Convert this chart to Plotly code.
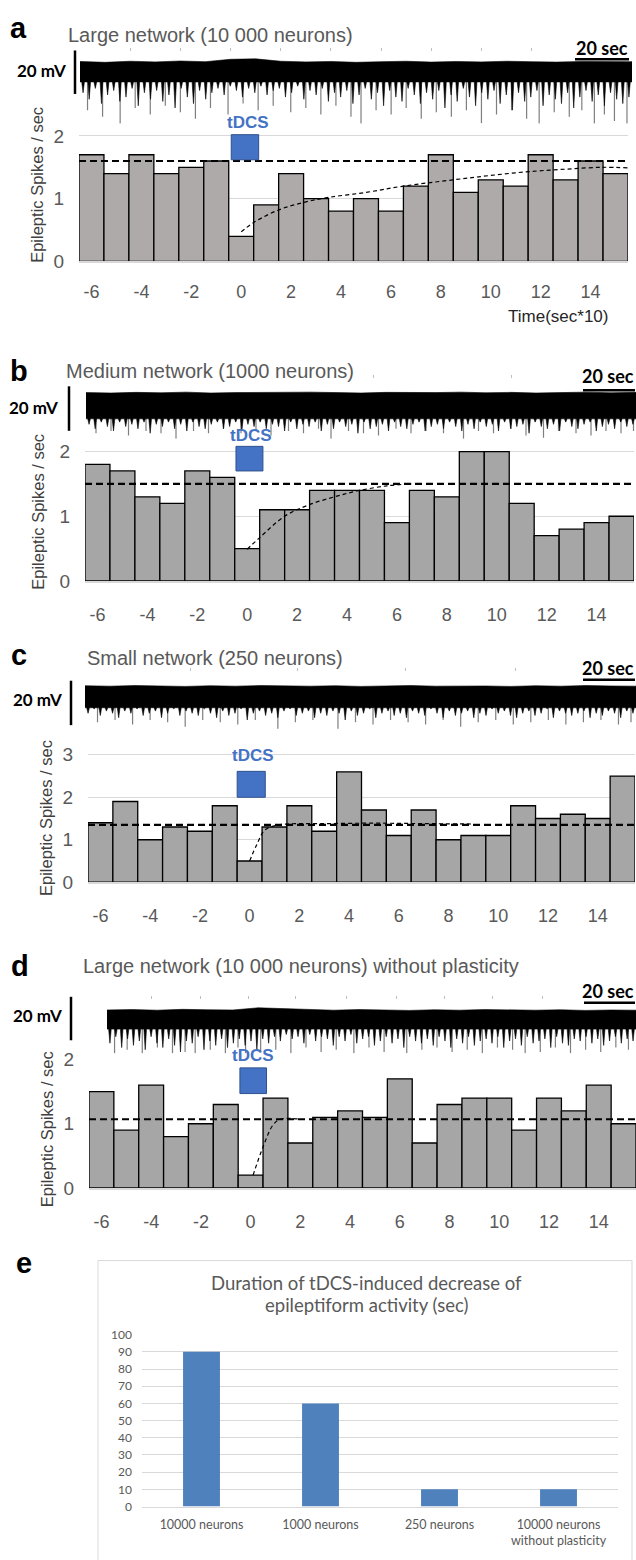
import numpy as np
import plotly.graph_objects as go

W, H = 636, 1560

# ---------------- histogram data: epileptic spikes / sec per 10-s bin ----------------
bins = list(range(-6, 16))
bin_ticks = [-6, -4, -2, 0, 2, 4, 6, 8, 10, 12, 14]
bin_ticklabels = ["-6", "-4", "-2", "0", "2", "4", "6", "8", "10", "12", "14"]

a_rate = [1.7, 1.4, 1.7, 1.4, 1.5, 1.6, 0.4, 0.9, 1.4, 1.0, 0.8, 1.0, 0.8, 1.2, 1.7, 1.1, 1.3, 1.2, 1.7, 1.3, 1.6, 1.4]
b_rate = [1.8, 1.7, 1.3, 1.2, 1.7, 1.6, 0.5, 1.1, 1.1, 1.4, 1.4, 1.4, 0.9, 1.4, 1.3, 2.0, 2.0, 1.2, 0.7, 0.8, 0.9, 1.0]
c_rate = [1.4, 1.9, 1.0, 1.3, 1.2, 1.8, 0.5, 1.3, 1.8, 1.2, 2.6, 1.7, 1.1, 1.7, 1.0, 1.1, 1.1, 1.8, 1.5, 1.6, 1.5, 2.5]
d_rate = [1.5, 0.9, 1.6, 0.8, 1.0, 1.3, 0.2, 1.4, 0.7, 1.1, 1.2, 1.1, 1.7, 0.7, 1.3, 1.4, 1.4, 0.9, 1.4, 1.2, 1.6, 1.0]

# baseline (pre-tDCS mean) levels
a_mean, b_mean, c_mean, d_mean = 1.6, 1.5, 1.35, 1.07

# recovery curves
a_rec_x = [0, 0.5, 1.5, 2.5, 3.5, 5, 6.5, 8.5, 10, 11.5, 13, 14.5, 15.5]
a_rec_y = [0.47, 0.62, 0.82, 0.94, 1.02, 1.1, 1.2, 1.3, 1.37, 1.43, 1.47, 1.5, 1.49]
b_rec_x = [0, 0.5, 1.5, 2.5, 3.5, 4.4, 5.6, 6.6]
b_rec_y = [0.49, 0.67, 1.0, 1.18, 1.3, 1.39, 1.47, 1.5]
c_rec_x = [0, 0.3, 0.6, 1.0, 1.5, 3, 5, 7, 9]
c_rec_y = [0.5, 0.9, 1.22, 1.33, 1.37, 1.38, 1.39, 1.38, 1.37]
d_rec_x = [0.1, 0.5, 0.9, 1.2, 2.0]
d_rec_y = [0.2, 0.64, 0.98, 1.07, 1.07]

# tDCS stimulus boxes [x0, x1, y0, y1] in histogram coordinates
a_tdcs = [-0.4, 0.7, 1.62, 2.02]
b_tdcs = [-0.45, 0.63, 1.70, 2.08]
c_tdcs = [-0.5, 0.63, 2.0, 2.61]
d_tdcs = [-0.43, 0.64, 1.47, 1.87]

# ---------------- voltage traces (mV relative to trace top) ----------------
a_T = 220
a_top = [0.4, 0.0, 0.5, 0.2, 0.6, 0.3, 1.4, 1.6, 0.5, 0.2, 0.4, 0.0, 0.3, 0.5, 0.1, 0.4, 0.2, 0.5, 0.3, 0.1, 0.4, 0.2, 0.3]
a_hair = [-14, -17, -12, -19, -15, -13, -18, -16, -12, -20, -14, -17, -13, -18, -15, -21, -12, -16, -19, -13,
          -17, -14, -12, -15, -11, -13, -16, -12, -14, -11, -15, -13, -12, -16, -14, -11, -17, -13, -15, -12,
          -18, -14, -16, -13, -19, -15, -12, -17, -14, -20, -13, -16, -18, -12, -15, -19, -14, -17, -13, -21,
          -15, -18, -12, -16, -20, -14, -17, -13, -19, -15, -22, -14, -18, -16, -13, -20, -15, -17, -19, -14,
          -21, -16, -13, -18, -15, -20, -14, -17, -19, -16]
a_spk_t = [3, 9, 16, 22, 28, 34, 40, 46, 52, 59, 65, 71, 77, 84, 90, 96, 102, 108, 112, 118,
           124, 130, 136, 142, 148, 154, 160, 166, 172, 178, 183, 189, 195, 200, 205, 209, 213, 218]
a_spk_v = [-22, -25, -31, -21, -24, -20, -23, -26, -21, -24, -19, -22, -20, -23, -21, -24, -20, -25, -31, -22,
           -24, -21, -26, -23, -25, -22, -28, -24, -22, -26, -30, -23, -25, -22, -29, -24, -27, -30]
a_dots = [20, 40, 60, 80, 100, 120, 140, 160, 180]

b_T = 220
b_top = [0.3, 0.1, 0.4, 0.2, 0.5, 0.1, 0.3, 0.4, 0.2, 0.5, 0.3, 0.1, 0.4, 0.2, 0.3, 0.5, 0.2, 0.4, 0.1, 0.3, 0.5, 0.2, 0.4]
b_hair = [-14, -16, -13, -15, -17, -13, -15, -14, -16, -13, -18, -14, -15, -13, -16, -14, -17, -13, -15, -16,
          -14, -13, -16, -15, -13, -17, -14, -15, -13, -16, -14, -15, -17, -13, -16, -14, -15, -13, -17, -14,
          -16, -13, -15, -14, -18, -13, -16, -15, -14, -17, -13, -15, -16, -14, -13, -17, -15, -14, -16, -13,
          -15, -17, -14, -16, -13, -15, -14, -17, -13, -16, -15, -14, -18, -13, -15, -16, -14, -17, -13, -15,
          -16, -14, -13, -17, -15, -14, -16, -13, -15, -14]
b_spk_t = [4, 10, 17, 24, 30, 36, 43, 49, 55, 62, 68, 74, 81, 87, 93, 98, 105, 111, 117, 124,
           130, 136, 143, 151, 157, 163, 170, 176, 183, 189, 196, 202, 208, 214, 219]
b_spk_v = [-18, -17, -19, -17, -18, -21, -17, -18, -16, -18, -17, -19, -17, -18, -16, -21, -17, -18, -19, -16,
           -18, -17, -18, -21, -17, -18, -16, -19, -20, -17, -18, -19, -17, -18, -17]
b_dots = [115, 170]

c_T = 220
c_top = [0.4, 0.2, 0.5, 0.3, 0.1, 0.4, 0.2, 0.5, 0.3, 0.2, 0.4, 0.1, 0.3, 0.5, 0.2, 0.4, 0.3, 0.1, 0.4, 0.2, 0.5, 0.3, 0.2]
c_hair = [-12, -10, -13, -11, -12, -14, -11, -12, -10, -13, -12, -11, -14, -12, -10, -13, -11, -12, -13, -10,
          -12, -14, -11, -13, -12, -10, -15, -12, -11, -13, -12, -14, -11, -10, -13, -12, -11, -14, -12, -13,
          -11, -12, -15, -11, -13, -12, -10, -14, -12, -11, -13, -12, -14, -11, -12, -13, -10, -12, -14, -11,
          -13, -12, -11, -14, -12, -13, -10, -12, -11, -13, -14, -12, -11, -13, -12, -10, -14, -11, -12, -13,
          -12, -11, -14, -12, -13, -11, -12, -14, -11, -12]
c_spk_t = [5, 12, 19, 26, 33, 40, 47, 54, 61, 68, 77, 84, 91, 101, 108, 115, 122, 129, 136, 143,
           150, 157, 164, 171, 178, 185, 192, 199, 206, 213, 218]
c_spk_v = [-16, -15, -17, -15, -16, -18, -15, -16, -17, -15, -19, -16, -15, -19, -16, -17, -15, -16, -17, -15,
           -18, -16, -15, -17, -16, -15, -17, -16, -15, -17, -16]
c_dots = [42, 85, 128, 172]

d_T = 210
d_top = [0.3, 0.5, 0.2, 0.6, 0.4, 0.3, 1.3, 1.0, 0.4, 0.2, 0.5, 0.3, 0.1, 0.4, 0.2, 0.5, 0.3, 0.2, 0.4, 0.1, 0.3, 0.2]
d_hair = [-15, -12, -17, -13, -16, -14, -18, -12, -15, -17, -13, -16, -19, -14, -15, -12, -18, -14, -16, -13,
          -17, -15, -13, -16, -14, -18, -13, -15, -12, -14, -11, -13, -12, -15, -11, -14, -12, -13, -16, -12,
          -14, -11, -15, -13, -12, -16, -14, -12, -15, -13, -17, -12, -14, -15, -13, -16, -12, -14, -17, -13,
          -15, -12, -16, -14, -13, -15, -12, -17, -14, -13, -16, -12, -15, -14, -13, -17, -12, -15, -16, -13,
          -14, -12, -15, -13, -16, -14, -12, -15, -13, -14]
d_spk_t = [3, 8, 14, 20, 26, 31, 35, 41, 47, 52, 55, 61, 67, 73, 79, 85, 91, 98, 104, 110,
           119, 125, 131, 137, 143, 149, 155, 161, 166, 172, 178, 184, 190, 196, 202, 207]
d_spk_v = [-22, -18, -20, -17, -21, -19, -22, -18, -20, -17, -22, -19, -18, -20, -17, -19, -18, -21, -17, -19,
           -21, -18, -17, -19, -18, -20, -17, -18, -22, -19, -17, -20, -18, -19, -17, -18]
d_dots = [17.5, 37, 56, 75, 95, 115, 134, 153, 173]

# ---------------- panel e ----------------
e_labels = ["10000 neurons", "1000 neurons", "250 neurons", "10000 neurons<br>without plasticity"]
e_values = [90, 60, 10, 10]
e_ticks = [0, 10, 20, 30, 40, 50, 60, 70, 80, 90, 100]

# ---------------- styling ----------------
FONT = "Liberation Sans, Arial, sans-serif"
CAL = "Lato, Carlito, sans-serif"
GRAY = "#595959"
GRID = "#D9D9D9"
BLUE = "#4472C4"

fig = go.Figure()
lay = {}


def refs(n):
    return ("x" if n == 1 else f"x{n}"), ("y" if n == 1 else f"y{n}")


def keys(n):
    return ("xaxis" if n == 1 else f"xaxis{n}"), ("yaxis" if n == 1 else f"yaxis{n}")


def ydom(top_px, bot_px):
    return [1 - bot_px / H, 1 - top_px / H]


def trace_panel(n, T, top, hair, spk_t, spk_v, dots, band, xpx, ypx, top_px, pxmv):
    xr, yr = refs(n)
    xk, yk = keys(n)
    # gray long spikes
    sx, sy = [], []
    for t, v in zip(spk_t, spk_v):
        sx += [t, t, None]
        sy += [band + 2, v, None]
    fig.add_trace(go.Scatter(x=sx, y=sy, mode="lines", line=dict(color="#7F7F7F", width=1.2),
                             xaxis=xr, yaxis=yr, hoverinfo="skip"))
    # dense band with jagged lower fringe
    dt = T / len(hair)
    th = (np.arange(len(hair)) + 0.5) * dt
    zx, zy = [0.0], [band]
    for t, v in zip(th, hair):
        zx += [t - 0.22 * dt, t, t + 0.22 * dt]
        zy += [band, v, band]
    zx += [T]
    zy += [band]
    tt = np.linspace(0, T, len(top))
    fig.add_trace(go.Scatter(x=list(tt) + zx[::-1], y=list(top) + zy[::-1], fill="toself",
                             fillcolor="black", mode="lines", line=dict(color="black", width=0.6),
                             xaxis=xr, yaxis=yr, hoverinfo="skip"))
    lay[xk] = dict(domain=[xpx[0] / W, xpx[1] / W], range=[0, T], anchor=yr, side="top",
                   showgrid=False, zeroline=False, showline=False, ticks="outside", ticklen=3,
                   tickwidth=1, tickcolor="#BFBFBF", tickvals=dots, showticklabels=False)
    lay[yk] = dict(domain=ydom(ypx[0], ypx[1]),
                   range=[-(ypx[1] - top_px) / pxmv, (top_px - ypx[0]) / pxmv],
                   anchor=xr, visible=False)


def bar_panel(n, rate, color, mean, rec_x, rec_y, box, xpx, y0px, pxu, ymax, yticks, standoff, grid=True):
    xr, yr = refs(n)
    xk, yk = keys(n)
    fig.add_trace(go.Bar(x=bins, y=rate, width=1, marker=dict(color=color, line=dict(color="black", width=1.3)),
                         xaxis=xr, yaxis=yr, hoverinfo="skip"))
    fig.add_trace(go.Scatter(x=[-6.5, 15.5], y=[mean, mean], mode="lines",
                             line=dict(color="black", width=2.2, dash="7px,4px"),
                             xaxis=xr, yaxis=yr, hoverinfo="skip"))
    fig.add_trace(go.Scatter(x=rec_x, y=rec_y, mode="lines",
                             line=dict(color="black", width=1.2, dash="4px,3px", shape="spline"),
                             xaxis=xr, yaxis=yr, hoverinfo="skip"))
    fig.add_shape(type="rect", xref=xr, yref=yr, x0=box[0], x1=box[1], y0=box[2], y1=box[3],
                  fillcolor=BLUE, line=dict(color="#2F528F", width=1), layer="above")
    top = y0px - ymax * pxu
    lay[xk] = dict(domain=[xpx[0] / W, xpx[1] / W], range=[-6.5, 15.5], anchor=yr,
                   tickvals=bin_ticks, ticktext=bin_ticklabels, ticks="", showgrid=False, zeroline=False,
                   showline=True, linecolor=GRID, linewidth=2,
                   tickfont=dict(family=FONT, size=18, color=GRAY), ticklabelstandoff=standoff)
    lay[yk] = dict(domain=ydom(top, y0px), range=[0, ymax], anchor=xr, tickvals=yticks,
                   showgrid=grid, gridcolor=GRID, gridwidth=1, zeroline=False, showline=False,
                   ticks="", tickfont=dict(family=FONT, size=19, color=GRAY), ticklabelstandoff=14)


# panel a
trace_panel(1, a_T, a_top, a_hair, a_spk_t, a_spk_v, a_dots, -9, (80, 632), (45, 130), 55, 2.2)
bar_panel(2, a_rate, "#AEAAAA", a_mean, a_rec_x, a_rec_y, a_tdcs, (79, 628), 256.5, 63.5, 2.2, [0, 1, 2], 13)
# panel b
trace_panel(3, b_T, b_top, b_hair, b_spk_t, b_spk_v, b_dots, -11.5, (86, 636), (376, 440), 390, 2.25)
bar_panel(4, b_rate, "#A6A6A6", b_mean, b_rec_x, b_rec_y, b_tdcs, (85, 634), 580, 65.5, 2.2, [0, 1, 2], 16)
# panel c
trace_panel(5, c_T, c_top, c_hair, c_spk_t, c_spk_v, c_dots, -9.5, (85, 636), (672, 735), 687, 2.25)
bar_panel(6, c_rate, "#A6A6A6", c_mean, c_rec_x, c_rec_y, c_tdcs, (88, 635), 885, 43, 3.2, [0, 1, 2, 3], 16)
# panel d
trace_panel(7, d_T, d_top, d_hair, d_spk_t, d_spk_v, d_dots, -8.5, (107, 636), (1004, 1066), 1015, 2.2)
bar_panel(8, d_rate, "#A6A6A6", d_mean, d_rec_x, d_rec_y, d_tdcs, (89, 636), 1194.5, 65, 2.1, [0, 1, 2], 16, grid=False)
# d gridlines (partly hidden by trace in original)
fig.add_shape(type="line", xref="paper", yref="y8", x0=89 / W, x1=636 / W, y0=1, y1=1,
              line=dict(color=GRID, width=1), layer="below")
fig.add_shape(type="line", xref="paper", yref="y8", x0=89 / W, x1=106 / W, y0=2, y1=2,
              line=dict(color=GRID, width=1), layer="below")

# panel e
fig.add_trace(go.Bar(x=e_labels, y=e_values, width=0.31, marker=dict(color="#4F81BD", line=dict(width=0)),
                     xaxis="x9", yaxis="y9", hoverinfo="skip"))
lay["xaxis9"] = dict(domain=[142 / W, 618 / W], anchor="y9", type="category", showgrid=False, zeroline=False,
                     showline=True, linecolor=GRID, linewidth=1, ticks="",
                     tickfont=dict(family=CAL, size=12.5, color=GRAY), ticklabelstandoff=6)
lay["yaxis9"] = dict(domain=ydom(1343, 1517), range=[0, 100], tickvals=e_ticks, anchor="x9", showgrid=True,
                     gridcolor=GRID, zeroline=False, ticks="",
                     tickfont=dict(family=CAL, size=12, color=GRAY), ticklabelstandoff=9)
fig.add_shape(type="rect", xref="paper", yref="paper", x0=98 / W, x1=632 / W, y0=1 - 1268 / H, y1=1 - 1580 / H,
              line=dict(color=GRID, width=1), fillcolor="rgba(0,0,0,0)", layer="below")


def ann(text, x, y, size, color="black", family=FONT, xanchor="center", angle=0):
    fig.add_annotation(text=text, x=x / W, y=1 - y / H, xref="paper", yref="paper", showarrow=False,
                       font=dict(size=size, color=color, family=family), xanchor=xanchor,
                       yanchor="middle", textangle=angle)


def hline(x0, x1, y):
    fig.add_shape(type="line", xref="paper", yref="paper", x0=x0 / W, x1=x1 / W, y0=1 - y / H, y1=1 - y / H,
                  line=dict(color="black", width=2.5))


def vline(x, y0, y1):
    fig.add_shape(type="line", xref="paper", yref="paper", x0=x / W, x1=x / W, y0=1 - y0 / H, y1=1 - y1 / H,
                  line=dict(color="black", width=2.5))


# panel letters
for L, x, y in [("a", 18, 20), ("b", 19, 367), ("c", 19, 655), ("d", 20, 970), ("e", 24, 1270)]:
    ann(f"<b>{L}</b>", x, y, 29)

# titles
ann("Large network (10 000 neurons)", 66, 27, 20, GRAY, xanchor="left")
ann("Medium network (1000 neurons)", 64, 367, 20, GRAY, xanchor="left")
ann("Small network (250 neurons)", 85, 658, 20, GRAY, xanchor="left")
ann("Large network (10 000 neurons) without plasticity", 81, 970, 20, GRAY, xanchor="left")

# scale bars
for (tx, ty, bx, by0, by1) in [(68, 63, 75, 43, 87), (60, 404, 69, 383, 428), (64, 700, 71, 681, 726),
                               (64, 1020, 71, 1001, 1045)]:
    ann("<b>20 mV</b>", tx, ty, 17, family=CAL, xanchor="right")
    vline(bx, by0, by1)
for (cx, cy, x0, x1, yb) in [(602, 40, 575, 629, 52), (608, 373, 583, 635, 387), (608, 668, 583, 635, 680),
                             (608, 995, 584, 635, 1007)]:
    ann("<b>20 sec</b>", cx, cy, 18, family=CAL)
    hline(x0, x1, yb)

# tDCS labels
for x, y in [(248, 116), (251, 433), (253, 757), (253, 1060)]:
    ann("<b>tDCS</b>", x, y, 17, BLUE)

# y-axis titles
for x, y in [(37, 179), (38, 510), (46, 820), (47, 1135)]:
    ann("Epileptic Spikes / sec", x, y, 16.5, "#404040", angle=-90)

ann("Time(sec*10)", 558, 312, 17, "#262626")

# panel e title
ann("Duration of tDCS-induced decrease of", 366, 1291, 18.5, GRAY, family=CAL)
ann("epileptiform activity (sec)", 366, 1313, 18.5, GRAY, family=CAL)

fig.update_layout(width=W, height=H, margin=dict(l=0, r=0, t=0, b=0), showlegend=False,
                  plot_bgcolor="white", paper_bgcolor="white", hovermode=False, **lay)

fig.write_html("out.html", config={"displayModeBar": False, "staticPlot": True},
               post_script="document.body.style.margin='0';document.body.style.overflow='hidden';")
